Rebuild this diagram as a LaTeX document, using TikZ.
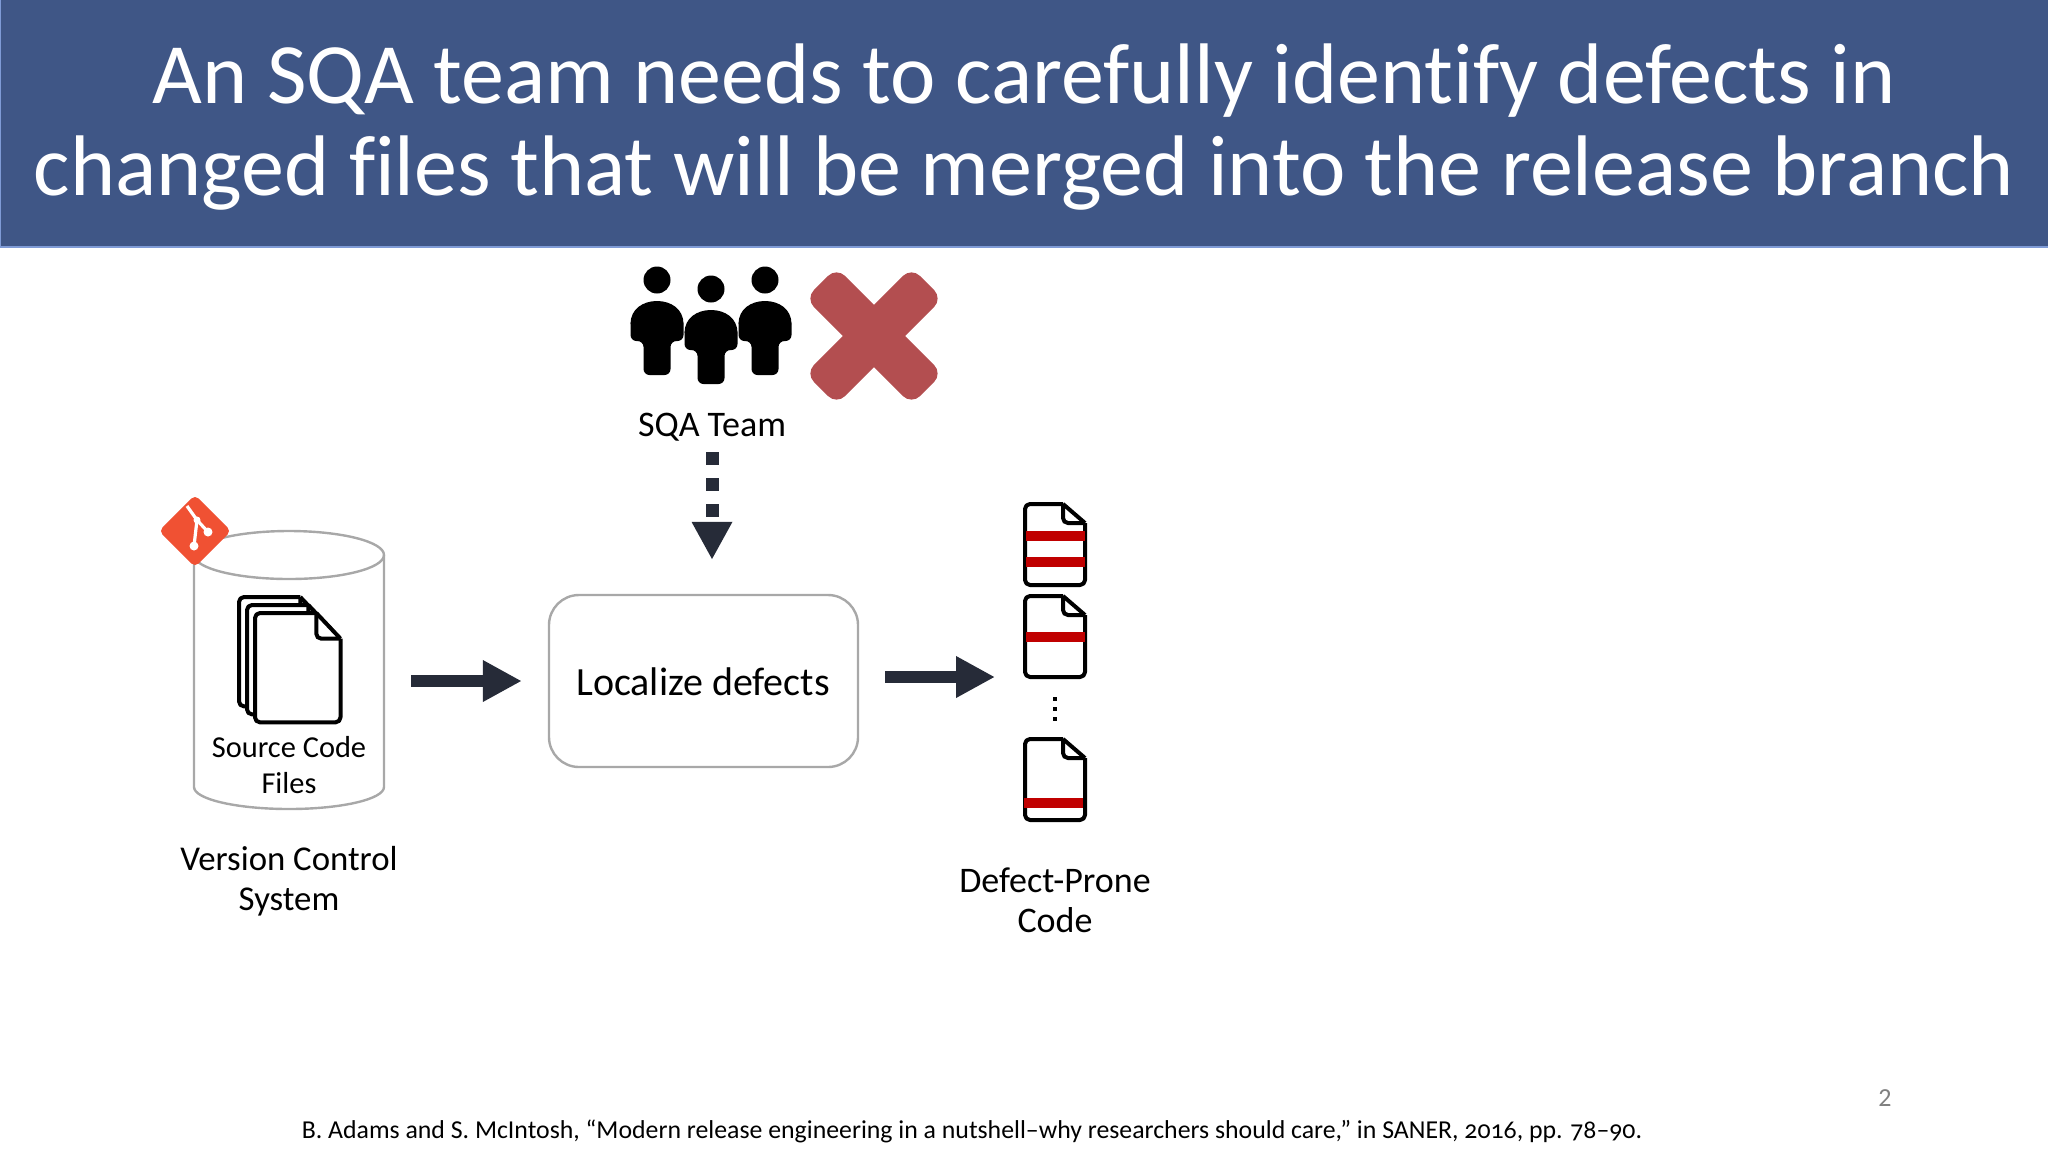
\documentclass[tikz,border=0pt]{standalone}
\usepackage{fontspec}
\setmainfont[Numbers=OldStyle,Ligatures=NoCommon]{Carlito}
\usetikzlibrary{arrows.meta,positioning,shapes.geometric,calc}
\definecolor{banner}{HTML}{3F5686}
\definecolor{bannerline}{HTML}{7F9BD6}
\definecolor{arrowc}{HTML}{262B38}
\definecolor{crossc}{HTML}{B34E50}
\definecolor{gitc}{HTML}{F05133}
\definecolor{barc}{HTML}{C00000}
\definecolor{greyc}{HTML}{A8A8A8}

\begin{document}
\begin{tikzpicture}[x=0.5pt, y=-0.5pt,
  lbl/.style={font=\fontsize{18}{20}\selectfont, align=center, inner sep=0pt},
  bigarrow/.style={line width=6pt, draw=arrowc, -{Triangle[length=19.5pt,width=19.5pt]}},
  cross/.style={rectangle, fill=crossc, rounded corners=6pt, minimum width=75pt, minimum height=22pt, inner sep=0pt},
  bar/.style={fill=barc},
  docicon/.pic={
    \fill[white, rounded corners=2pt] (#1,0) -- (0,0) -- (0,81) -- (60,81) -- (60,19) -- cycle;
    \draw[line width=2pt, rounded corners=2.5pt, line join=round] (#1,0) -- (0,0) -- (0,81) -- (60,81) -- (60,19);
    \draw[line width=2pt, line join=round] (60,19) -- (#1,0);
    \draw[line width=2pt, rounded corners=2.5pt] (#1,0) -- (#1,19) -- (60,19);
  },
  person/.pic={
    \fill (0,0) circle[radius=13.5];
    \fill[rounded corners=3pt] (-13.5,95) -- (-13.5,61) -- (-26.5,61) -- (-26.5,38) -- (26.5,38) -- (26.5,61) -- (13.5,61) -- (13.5,95) -- cycle;
    \fill (-26.5,44) .. controls (-26.5,29) and (-14,21) .. (0,21) .. controls (14,21) and (26.5,29) .. (26.5,44) -- cycle;
  }]
\useasboundingbox (0,0) rectangle (2048,1152);

% title
\node[rectangle, draw=bannerline, fill=banner, line width=1pt, minimum width=1026pt, minimum height=124pt, inner sep=0pt, anchor=north west] (head) at (-1,-2) {};
\node[text=white, font=\fontsize{43}{46}\selectfont, align=center, inner sep=0pt] (title) at (1024,127) {An SQA team needs to carefully identify defects in\\changed files that will be merged into the release branch};

% version control
\node[rectangle, minimum width=95pt, minimum height=139pt, inner sep=0pt] (vcs) at (289,670) {};
\draw[greyc, line width=1.2pt] (194,555) -- (194,787) arc[start angle=180, end angle=0, x radius=95, y radius=22] -- (384,555);
\draw[greyc, line width=1.2pt] (289,555) ellipse[x radius=95, y radius=24];
\node[rectangle, rotate=45, fill=gitc, rounded corners=2.5pt, minimum size=25.5pt, inner sep=0pt] (git) at (195,531) {};
\coordinate (gita) at (187,506);
\coordinate (gitb) at (197,520);
\coordinate (gitc) at (208,532);
\coordinate (gitd) at (194,546);
\draw[white, line width=1.6pt] (gita) -- (gitb) -- (gitc);
\draw[white, line width=1.6pt] (gitb) -- (gitd);
\fill[white] (gitc) circle[radius=4.5] (gitd) circle[radius=4.5] (gitb) circle[radius=3.5];
\pic[xscale=1.425, yscale=1.35] at (239,597) {docicon=43};
\pic[xscale=1.425, yscale=1.35] at (247,605) {docicon=43};
\pic[xscale=1.425, yscale=1.35] at (255,613) {docicon=43};
\node[lbl, font=\fontsize{15.2}{18}\selectfont] (src) at (289,765) {Source Code\\Files};
\node[lbl, font=\fontsize{17.4}{20}\selectfont] (vcsl) at (289,881) {Version Control\\System};

% team
\foreach \px/\py in {657/280, 765/280, 711/289}
  \pic at (\px,\py) {person};
\node[cross, rotate=45] (xa) at (874,336) {};
\node[cross, rotate=-45] (xb) at (874,336) {};
\node[lbl] (team) at (712,427) {SQA Team};

% process
\node[draw=greyc, line width=1.2pt, rounded corners=15pt, minimum width=154.5pt, minimum height=86pt, inner sep=0pt] (box) at (703.5,681) {};
\node[lbl, font=\fontsize{20}{22}\selectfont] (loc) at (703,682) {Localize defects};
\coordinate (out) at (1023,677);
\draw[bigarrow, shorten <=13.5pt, shorten >=13pt] (vcs.east |- box.west) -- (box.west);
\draw[bigarrow, shorten <=13pt, shorten >=14pt] (box.east |- out) -- (out);
\draw[line width=6.5pt, draw=arrowc, dash pattern=on 6.5pt off 6.4pt, -{Triangle[length=19pt,width=19pt]}, shorten <=5.5pt, shorten >=17pt] (team.south) -- (team.south |- box.north);

% defect-prone files
\pic at (1025,504) {docicon=38};
\pic at (1025,596) {docicon=38};
\pic at (1025,739) {docicon=38};
\fill[bar] (1026,531) rectangle (1085,541);
\fill[bar] (1026,557) rectangle (1085,567);
\fill[bar] (1026,632) rectangle (1085,642);
\fill[bar] (1024,798) rectangle (1083,808);
\foreach \dy in {699,709,719}
  \fill (1053,\dy-2) rectangle (1057,\dy+2);
\node[lbl] (defl) at (1055,900) {Defect-Prone\\Code};

% footer
\node[font=\fontsize{12.9}{15}\selectfont, inner sep=0pt] (cite) at (972,1131) {B. Adams and S. McIntosh, “Modern release engineering in a nutshell–why researchers should care,” in SANER, 2016, pp. 78–90.};
\node[text=gray, font=\fontsize{13}{14}\selectfont\addfontfeatures{Numbers=Lining}, inner sep=0pt] (page) at (1885,1098) {2};
\end{tikzpicture}
\end{document}
